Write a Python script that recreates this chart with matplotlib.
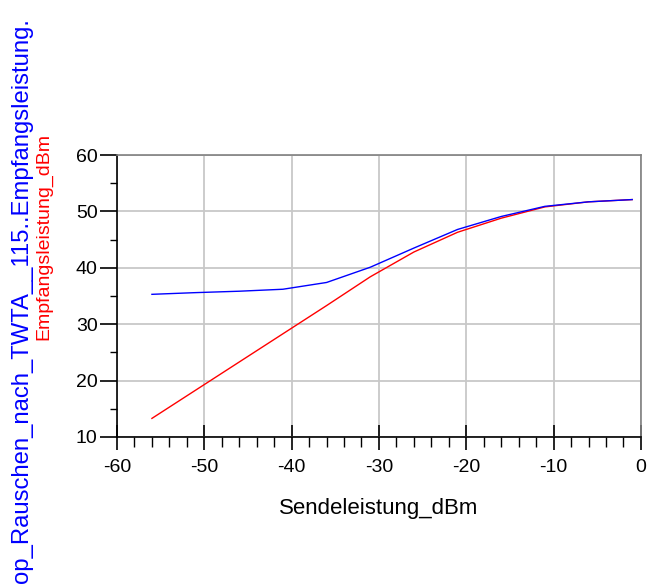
import matplotlib.pyplot as plt
import numpy as np

plt.rcParams["font.family"] = ["Liberation Sans", "DejaVu Sans"]
plt.rcParams["axes.unicode_minus"] = False

# Sendeleistung (dBm) sweep points
send_dbm = [-56, -51, -46, -41, -36, -31, -26, -21, -16, -11, -6, -1]
# received power incl. TWTA noise
empf_rausch = [35.3, 35.6, 35.85, 36.2, 37.4, 40.1, 43.5, 46.8, 49.1, 50.9, 51.7, 52.1]
# received power without noise
empf = [13.3, 18.3, 23.3, 28.3, 33.3, 38.4, 42.8, 46.3, 48.8, 50.8, 51.7, 52.1]

x_ticks = np.arange(-60, 1, 10)
y_ticks = np.arange(10, 61, 10)

fig = plt.figure(figsize=(6.5, 5.85), dpi=100)
ax = fig.add_axes([0.18, 0.253, 0.806, 0.482])

ax.plot(send_dbm, empf_rausch, color="#0000ff", lw=1.0, zorder=3)
ax.plot(send_dbm, empf, color="#ff0000", lw=1.0, zorder=2)

ax.set_xlim(-60, 0)
ax.set_ylim(10, 60)
ax.set_xticks(x_ticks)
ax.set_yticks(y_ticks)
ax.set_xticks(np.arange(-60, 1, 2), minor=True)
ax.set_yticks(np.arange(10, 61, 5), minor=True)

ax.grid(True, which="major", color="#c8c8c8", lw=1.3)
ax.set_axisbelow(True)

for side in ("top", "right"):
    ax.spines[side].set_color("#808080")
    ax.spines[side].set_linewidth(1.2)
for side in ("left", "bottom"):
    ax.spines[side].set_color("black")
    ax.spines[side].set_linewidth(1.2)

ax.tick_params(axis="x", which="major", direction="inout", length=18, width=1.2,
               pad=7, labelsize=14)
ax.tick_params(axis="x", which="minor", direction="out", length=7, width=1.0)
ax.tick_params(axis="y", which="major", direction="out", length=12, width=1.2,
               pad=2, labelsize=14)
ax.tick_params(axis="y", which="minor", direction="out", length=5, width=1.0)

ax.set_xlabel("Sendeleistung_dBm", fontsize=16, labelpad=16)

fig.text(0.034, 0.003, "op_Rauschen_nach_TWTA__115..Empfangsleistung.",
         color="#0000ff", fontsize=17.2, rotation=90, ha="center", va="bottom")
fig.text(0.068, 0.595, "Empfangsleistung_dBm", color="#ff0000", fontsize=14,
         rotation=90, ha="center", va="center")

fig.savefig("out.png", dpi=100)
